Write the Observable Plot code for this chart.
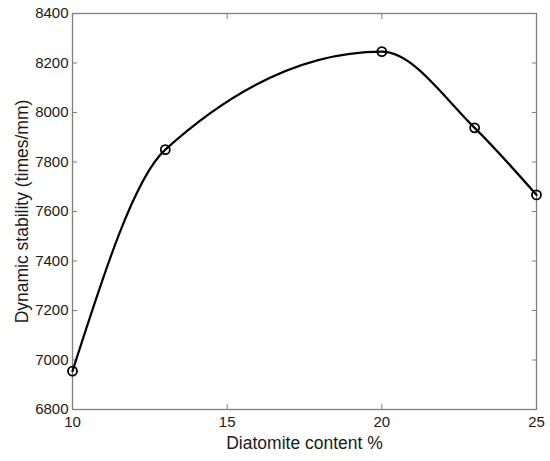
<!DOCTYPE html>
<html>
<head>
<meta charset="utf-8">
<script src="https://cdn.jsdelivr.net/npm/d3@7"></script>
<script src="https://cdn.jsdelivr.net/npm/@observablehq/plot@0.6"></script>
<style>
  html, body { margin: 0; padding: 0; background: #fff; }
  #chart svg { display: block; }
</style>
</head>
<body>
<div id="chart"></div>
<script>
const content = [10, 13, 20, 23, 25];
const stability = [6955, 7850, 8246, 7938, 7667];
const xTicks = [10, 15, 20, 25];
const yTicks = [6800, 7000, 7200, 7400, 7600, 7800, 8000, 8200, 8400];
const xLabel = "Diatomite content %";
const yLabel = "Dynamic stability (times/mm)";

const data = content.map((c, i) => ({x: c, y: stability[i]}));
const axisColor = "#7f7f7f";
const textColor = "#1a1a1a";
const font = "Liberation Sans, Arial, sans-serif";

const chart = Plot.plot({
  width: 550,
  height: 461,
  marginLeft: 72,
  marginRight: 14,
  marginTop: 13,
  marginBottom: 52,
  style: {fontFamily: font, fontSize: "15px", color: textColor, background: "#fff"},
  x: {domain: [10, 25], ticks: xTicks},
  y: {domain: [6800, 8400], ticks: yTicks},
  marks: [
    Plot.frame({stroke: axisColor, strokeWidth: 1.3}),
    Plot.axisX(xTicks, {anchor: "bottom", tickSize: -5, tickPadding: 12, stroke: axisColor, fill: textColor, fontSize: 15, tickFormat: d3.format("d"), label: null}),
    Plot.axisX(xTicks, {anchor: "top", tickSize: -5, tickFormat: () => "", stroke: axisColor, label: null}),
    Plot.axisY(yTicks, {anchor: "left", tickSize: -5, tickPadding: 9, stroke: axisColor, fill: textColor, fontSize: 15, tickFormat: d3.format("d"), label: null}),
    Plot.axisY(yTicks, {anchor: "right", tickSize: -5, tickFormat: () => "", stroke: axisColor, label: null}),
    Plot.text([xLabel], {frameAnchor: "bottom", dy: 34, fontSize: 17.5, fill: textColor, lineAnchor: "middle", textAnchor: "middle"}),
    Plot.text([yLabel], {frameAnchor: "left", dx: -50, rotate: -90, fontSize: 17.5, fill: textColor, lineAnchor: "middle", textAnchor: "middle"}),
    Plot.line(data, {x: "x", y: "y", curve: "monotone-x", stroke: "#000", strokeWidth: 2.2}),
    Plot.dot(data, {x: "x", y: "y", r: 4.5, stroke: "#000", strokeWidth: 1.8, fill: "none"})
  ]
});
document.getElementById("chart").appendChild(chart);
</script>
</body>
</html>
